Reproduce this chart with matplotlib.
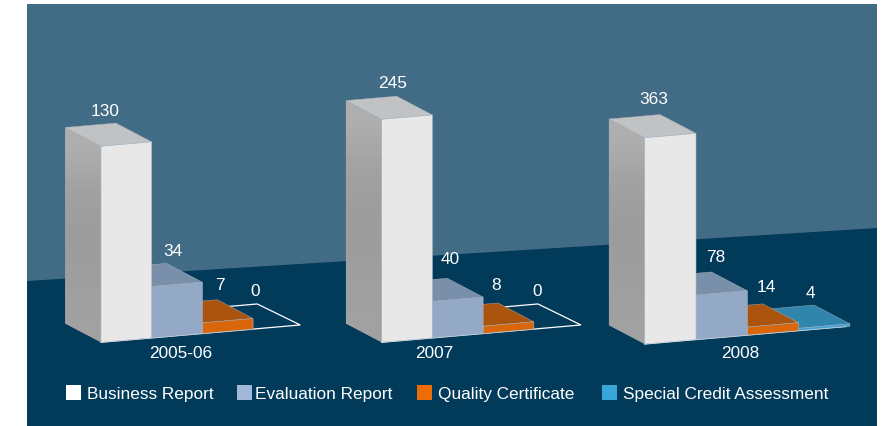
import numpy as np
import matplotlib
matplotlib.use('Agg')
import matplotlib.pyplot as plt
from matplotlib.patches import Polygon, Rectangle

plt.rcParams['font.family'] = ['Liberation Sans', 'DejaVu Sans']

groups = ['2005-06', '2007', '2008']
series = ['Business Report', 'Evaluation Report', 'Quality Certificate', 'Special Credit Assessment']
business = [130, 245, 363]
evaluation = [34, 40, 78]
quality = [7, 8, 14]
special = [0, 0, 4]

# each group has its own height scale in the original
scale = [1.508, 0.91, 0.568]
origin = [(101, 342.3), (381.7, 342.3), (644.7, 344)]
bar_w = [50.7, 50.7, 51.3]
slope = -0.087
depth = (-35.8, -18.8)
floor_depth = (-43, -21)
floor_cells = 3.93

front_col = ['#e8e8e8', '#94a9c6', '#d9670a', '#3aa4d6']
top_col = ['#c0c2c4', '#7a90aa', '#ab540d', '#2f85ab']
legend_col = ['#ffffff', '#a2b8d8', '#ee6c06', '#39a6da']

# label anchors: one row per group, one column per series
label_xy = [[(105, 112), (173, 252), (220, 285), (255, 292)],
            [(393, 83), (450, 260), (496, 286), (537, 291)],
            [(654, 99), (716, 257), (766, 288), (810, 294)]]
group_xy = [(181, 354), (434, 354), (740, 354)]
swatch_x = [66, 237, 417, 602]
legend_x = [87, 255, 438, 623]

fig = plt.figure(figsize=(8.86, 4.26), dpi=100, facecolor='white')
ax = fig.add_axes([0, 0, 1, 1])
ax.axis('off')

# background
ax.add_patch(Polygon([(27, 4), (877, 4), (877, 426), (27, 426)], fc='#426c85', ec='none', zorder=0))
ax.add_patch(Polygon([(27, 281), (877, 228), (877, 426), (27, 426)], fc='#023a5a', ec='none', zorder=1))

grad = np.array([[0.68], [0.63], [0.61], [0.62], [0.63]])


def draw_bar(x0, y0, w, h, i, z):
    x1 = x0 + w
    y1 = y0 + slope * w
    dx, dy = depth
    front = [(x0, y0), (x1, y1), (x1, y1 - h), (x0, y0 - h)]
    top = [(x0, y0 - h), (x1, y1 - h), (x1 + dx, y1 - h + dy), (x0 + dx, y0 - h + dy)]
    side = [(x0, y0), (x0, y0 - h), (x0 + dx, y0 - h + dy), (x0 + dx, y0 + dy)]
    if i == 0:
        poly = Polygon(side, fc='#9c9c9c', ec='none', zorder=z)
        ax.add_patch(poly)
        im = ax.imshow(grad, cmap='gray', vmin=0, vmax=1, aspect='auto', zorder=z,
                       extent=(x0 + dx, x0, y0, y0 - h + dy), interpolation='bilinear')
        im.set_clip_path(poly)
    ax.add_patch(Polygon(top, fc=top_col[i], ec='#a9b4bf', lw=0.3, zorder=z + 0.1))
    ax.add_patch(Polygon(front, fc=front_col[i], ec='#a9b9c9', lw=0.4, zorder=z + 0.2))


for g in range(len(groups)):
    x0, y0 = origin[g]
    w = bar_w[g]
    vals = [business[g], evaluation[g], quality[g], special[g]]

    # floor outline, only the empty last cell shows its back edge
    xr = x0 + w * floor_cells
    yr = y0 + slope * w * floor_cells
    xb = xr + floor_depth[0]
    yb = yr + floor_depth[1]
    if vals[3] == 0:
        ax.plot([x0, xr, xb, xb - w], [y0, yr, yb, yb - slope * w], color='white', lw=0.9, zorder=2,
                solid_joinstyle='miter')
    else:
        ax.plot([x0, xr], [y0, yr], color='white', lw=0.9, zorder=2)

    # right to left so nearer faces cover the tops behind them
    for i in range(len(vals) - 1, -1, -1):
        if vals[i] > 0:
            draw_bar(x0 + w * i, y0 + slope * w * i, w, vals[i] * scale[g], i, 3 + (len(vals) - i))
        lx, ly = label_xy[g][i]
        ax.text(lx, ly, str(vals[i]), color='white', fontsize=12.4, ha='center', va='center', zorder=20)
    ax.text(group_xy[g][0], group_xy[g][1], groups[g], color='white', fontsize=12.4, ha='center', va='center', zorder=20)

# legend
for i, name in enumerate(series):
    ax.add_patch(Rectangle((swatch_x[i], 385), 15, 15, fc=legend_col[i], ec='none', zorder=20))
    ax.text(legend_x[i], 395, name, color='white', fontsize=12.4, ha='left', va='center', zorder=20)

ax.set_xlim(0, 886)
ax.set_ylim(426, 0)
fig.savefig('out.png', dpi=100)
